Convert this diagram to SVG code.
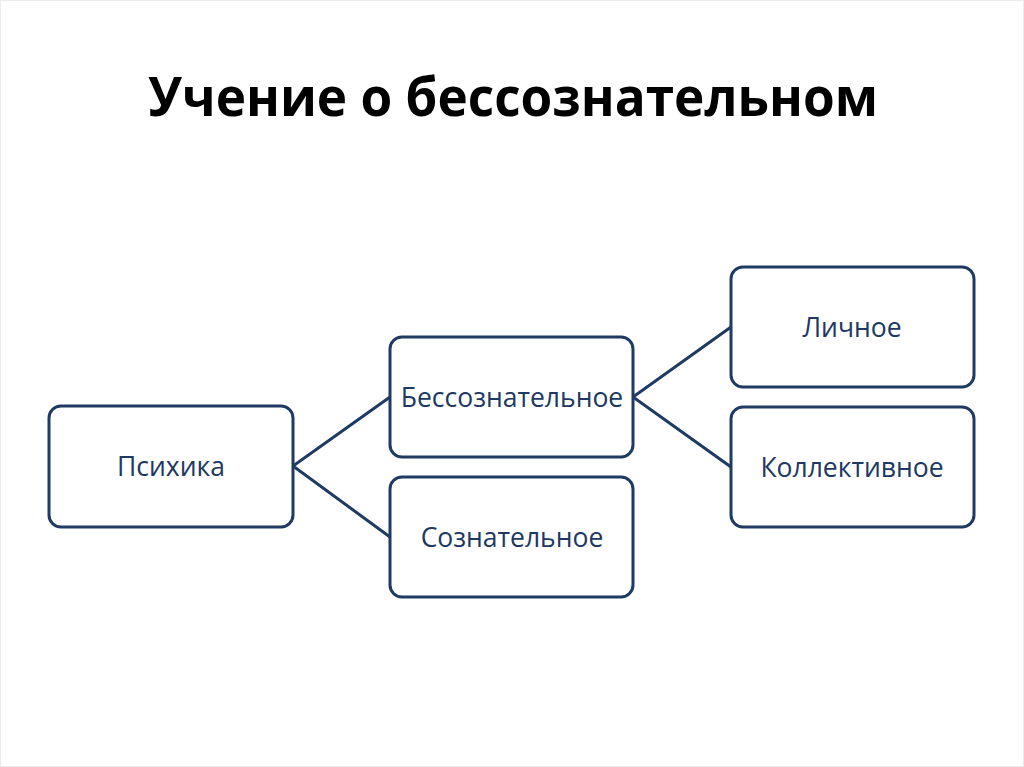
<svg xmlns="http://www.w3.org/2000/svg" width="1024" height="767" viewBox="0 0 1024 767">
<style>
.box{fill:#fff;stroke:#1f3a63;stroke-width:3}
.lbl{font-family:"Open Sans","Noto Sans",sans-serif;font-size:26.5px;fill:#203864;text-anchor:middle;dominant-baseline:central}
.title{font-family:"Open Sans","Noto Sans",sans-serif;font-weight:bold;font-size:54px;fill:#000;text-anchor:middle}
.conn{stroke:#1f3a63;stroke-width:3;fill:none}
</style>
<rect x="0" y="0" width="1024" height="767" fill="#fff"/>
<rect x="0.5" y="0.5" width="1023" height="766" fill="none" stroke="#ececec"/>
<text class="title" x="513" y="116" textLength="730" lengthAdjust="spacingAndGlyphs">Учение о бессознательном</text>
<g id="connectors">
<polyline class="conn" points="390,397 293,466 390,537"/>
<polyline class="conn" points="731,327 633,397 731,467"/>
</g>
<g id="psyche"><rect class="box" x="49" y="406" width="244" height="121" rx="12"/><text class="lbl" x="171" y="466">Психика</text></g>
<g id="unconscious"><rect class="box" x="390" y="337" width="243" height="120" rx="12"/><text class="lbl" x="512" y="397">Бессознательное</text></g>
<g id="conscious"><rect class="box" x="390" y="477" width="243" height="120" rx="12"/><text class="lbl" x="512" y="537">Сознательное</text></g>
<g id="personal"><rect class="box" x="731" y="267" width="243" height="120" rx="12"/><text class="lbl" x="852" y="327">Личное</text></g>
<g id="collective"><rect class="box" x="731" y="407" width="243" height="120" rx="12"/><text class="lbl" x="852" y="467">Коллективное</text></g>
</svg>
